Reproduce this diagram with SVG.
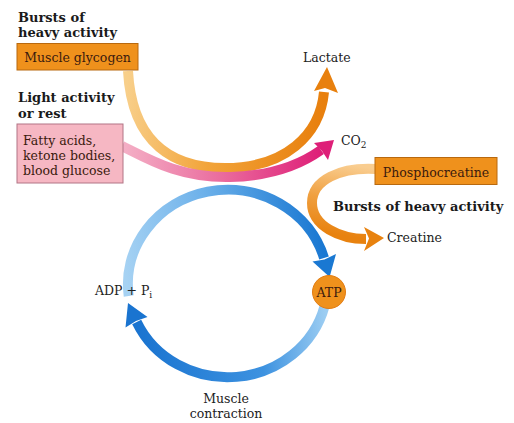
<svg xmlns="http://www.w3.org/2000/svg" width="514" height="423" viewBox="0 0 514 423">
  <style>
    .lbl { font-family: "DejaVu Serif", "Liberation Serif", serif; font-size: 12.5px; fill: #222; }
    .bold { font-family: "DejaVu Serif", "Liberation Serif", serif; font-size: 13px; font-weight: bold; fill: #1a1a1a; }
    .boxtxt { font-family: "DejaVu Serif", "Liberation Serif", serif; font-size: 12.5px; fill: #3a1a0e; }
    .obox { fill: #ef911c; stroke: #b8690f; stroke-width: 1; }
    .pbox { fill: #f6b7c3; stroke: #b27585; stroke-width: 1; }
    .shaft { fill: none; stroke-width: 10; stroke-linecap: butt; }
  </style>
  <defs>
    <linearGradient id="gGlycogen" gradientUnits="userSpaceOnUse" x1="128" y1="72" x2="324" y2="92">
      <stop offset="0" stop-color="#f8cf8a"/>
      <stop offset="0.45" stop-color="#f2a43a"/>
      <stop offset="1" stop-color="#e8800e"/>
    </linearGradient>
    <linearGradient id="gFat" gradientUnits="userSpaceOnUse" x1="122" y1="146" x2="321" y2="150">
      <stop offset="0" stop-color="#f4b0c6"/>
      <stop offset="0.5" stop-color="#ea6c9e"/>
      <stop offset="1" stop-color="#de1f78"/>
    </linearGradient>
    <linearGradient id="gPcr" gradientUnits="userSpaceOnUse" x1="376" y1="169" x2="365" y2="239">
      <stop offset="0" stop-color="#f9cd90"/>
      <stop offset="0.5" stop-color="#f0a040"/>
      <stop offset="1" stop-color="#e8820f"/>
    </linearGradient>
    <linearGradient id="gTop" gradientUnits="userSpaceOnUse" x1="128" y1="290" x2="325" y2="258">
      <stop offset="0" stop-color="#a6d2f3"/>
      <stop offset="0.45" stop-color="#6db1ea"/>
      <stop offset="1" stop-color="#1a78d2"/>
    </linearGradient>
    <linearGradient id="gBottom" gradientUnits="userSpaceOnUse" x1="325" y1="308" x2="137" y2="322">
      <stop offset="0" stop-color="#9ccdf2"/>
      <stop offset="0.35" stop-color="#3d92e0"/>
      <stop offset="1" stop-color="#1a74d0"/>
    </linearGradient>
  </defs>

  <rect width="514" height="423" fill="#ffffff"/>

  <!-- connectors: curved flux arrows -->
  <g id="connectors">
    <!-- ATP production arc (top of cycle) -->
    <path class="shaft" stroke="url(#gTop)" d="M128.7,296 A100,94.5 0 0 1 324,258"/>
    <polygon fill="#1a78d2" points="329.6,277 336,254 324.5,259.5 312.5,261.5"/>
    <!-- ATP consumption arc (bottom of cycle) -->
    <path class="shaft" stroke="url(#gBottom)" d="M324.6,306 A100,94.5 0 0 1 136.7,322"/>
    <polygon fill="#1a74d0" points="128,303 147.5,317 136,321 125.5,327.5"/>

    <!-- glycogen to lactate -->
    <path class="shaft" stroke="url(#gGlycogen)" d="M128,71 C132,145 175,168 225,168 C285,168 320,135 324,92"/>
    <polygon fill="#e8800e" points="327,67 338,93 325,88 314,91"/>

    <!-- fatty acids / glucose to CO2 -->
    <path class="shaft" stroke="url(#gFat)" d="M122,146 C150,160 180,178 230,177 C270,176 300,165 321,150"/>
    <polygon fill="#de1f78" points="334,140 328,160 322,151 314,143"/>

    <!-- phosphocreatine to creatine -->
    <path class="shaft" stroke="url(#gPcr)" d="M376,169 C340,167 312,180 312,203 C312,226 340,239 366,239"/>
    <polygon fill="#e8820f" points="384,238 364,227 369,238.5 364,251"/>
  </g>

  <g id="glycogen-label">
    <text class="bold" x="18" y="22">Bursts of</text>
    <text class="bold" x="18" y="37">heavy activity</text>
  </g>
  <g id="muscle-glycogen">
    <rect class="obox" x="17" y="43.5" width="121" height="26.5"/>
    <text class="boxtxt" x="77.5" y="62" text-anchor="middle">Muscle glycogen</text>
  </g>

  <g id="rest-label">
    <text class="bold" x="18" y="102">Light activity</text>
    <text class="bold" x="18" y="118">or rest</text>
  </g>
  <g id="fuels">
    <rect class="pbox" x="17" y="124" width="106" height="59"/>
    <text class="boxtxt" x="23" y="145">Fatty acids,</text>
    <text class="boxtxt" x="23" y="160">ketone bodies,</text>
    <text class="boxtxt" x="23" y="175">blood glucose</text>
  </g>

  <g id="lactate">
    <text class="lbl" x="303" y="62">Lactate</text>
  </g>

  <g id="co2">
    <text class="lbl" x="341" y="145">CO<tspan font-size="9" dy="3">2</tspan></text>
  </g>

  <g id="phosphocreatine">
    <rect class="obox" x="375" y="157.5" width="122" height="27"/>
    <text class="boxtxt" x="436" y="177" text-anchor="middle">Phosphocreatine</text>
  </g>

  <g id="pcr-label">
    <text class="bold" x="333" y="211">Bursts of heavy activity</text>
  </g>

  <g id="creatine">
    <text class="lbl" x="387" y="242">Creatine</text>
  </g>

  <g id="atp">
    <circle cx="329" cy="292" r="16.5" fill="#ef911c" stroke="#e27c12" stroke-width="1"/>
    <text class="boxtxt" x="329" y="296.5" text-anchor="middle" font-size="11.5">ATP</text>
  </g>

  <g id="adp">
    <text class="lbl" x="95" y="295">ADP + P<tspan font-size="9" dy="3">i</tspan></text>
  </g>

  <g id="contraction">
    <text class="lbl" x="226" y="403" text-anchor="middle">Muscle</text>
    <text class="lbl" x="226" y="418" text-anchor="middle">contraction</text>
  </g>
</svg>
